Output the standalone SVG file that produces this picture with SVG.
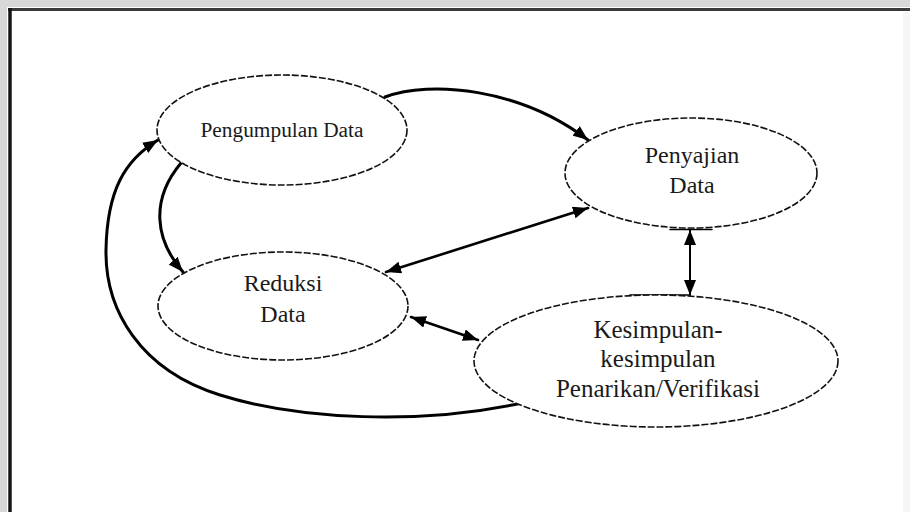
<svg xmlns="http://www.w3.org/2000/svg" width="910" height="512" viewBox="0 0 910 512">
<defs>
<marker id="ah" viewBox="0 0 15 12" refX="15" refY="6" markerWidth="15" markerHeight="12" markerUnits="userSpaceOnUse" orient="auto-start-reverse">
<path d="M0,0 L15,6 L0,12 z" fill="#000"/>
</marker>
</defs>
<style>
.node{fill:#fff;stroke:#111;stroke-width:1.6;stroke-dasharray:7 2}
.lbl{font-family:"Liberation Serif","Times New Roman",serif;fill:#1a1a1a;text-anchor:middle}
.c{fill:none;stroke:#000;stroke-linecap:round}
</style>
<rect x="0" y="0" width="910" height="512" fill="#fff"/>
<rect x="0" y="0" width="910" height="7" fill="#d8d8d8"/>
<rect x="0" y="0" width="7" height="512" fill="#d8d8d8"/>
<rect x="903" y="12" width="7" height="500" fill="#f6f6f6"/>
<line x1="8" y1="9.5" x2="910" y2="9.5" stroke="#3a3a3a" stroke-width="3"/>
<line x1="10" y1="8" x2="10" y2="512" stroke="#151515" stroke-width="3.5"/>

<g id="connectors">
<path class="c" d="M385,97 C430,80 520,88 588,140" stroke-width="3" marker-end="url(#ah)"/>
<path class="c" d="M181,163 C150,200 155,240 183,272" stroke-width="3" marker-end="url(#ah)"/>
<path class="c" d="M386,272 L588,208" stroke-width="2.6" marker-start="url(#ah)" marker-end="url(#ah)"/>
<path class="c" d="M690,230 L690,295" stroke-width="2" marker-start="url(#ah)" marker-end="url(#ah)"/>
<path class="c" d="M670,229.5 H712 M630,295 H690" stroke-width="1.6"/>
<path class="c" d="M411,317 L478,340" stroke-width="2.6" marker-start="url(#ah)" marker-end="url(#ah)"/>
<path class="c" d="M522,403 C420,425 300,420 220,395 C140,370 105,310 106,250 C107,190 125,160 158,140" stroke-width="3" marker-end="url(#ah)"/>
</g>

<g id="pengumpulan">
<ellipse class="node" cx="282" cy="130" rx="125" ry="55"/>
<text class="lbl" x="282" y="137" font-size="20" textLength="163" lengthAdjust="spacingAndGlyphs">Pengumpulan Data</text>
</g>
<g id="penyajian">
<ellipse class="node" cx="691" cy="173" rx="126" ry="55"/>
<text class="lbl" x="692" y="163" font-size="24">Penyajian</text>
<text class="lbl" x="692" y="193" font-size="24">Data</text>
</g>
<g id="reduksi">
<ellipse class="node" cx="283" cy="306" rx="125" ry="54"/>
<text class="lbl" x="283" y="291" font-size="24">Reduksi</text>
<text class="lbl" x="283" y="322" font-size="24">Data</text>
</g>
<g id="kesimpulan">
<ellipse class="node" cx="656" cy="361" rx="182" ry="66"/>
<text class="lbl" x="658" y="338" font-size="25">Kesimpulan-</text>
<text class="lbl" x="658" y="367" font-size="25">kesimpulan</text>
<text class="lbl" x="658" y="397" font-size="25">Penarikan/Verifikasi</text>
</g>
</svg>
